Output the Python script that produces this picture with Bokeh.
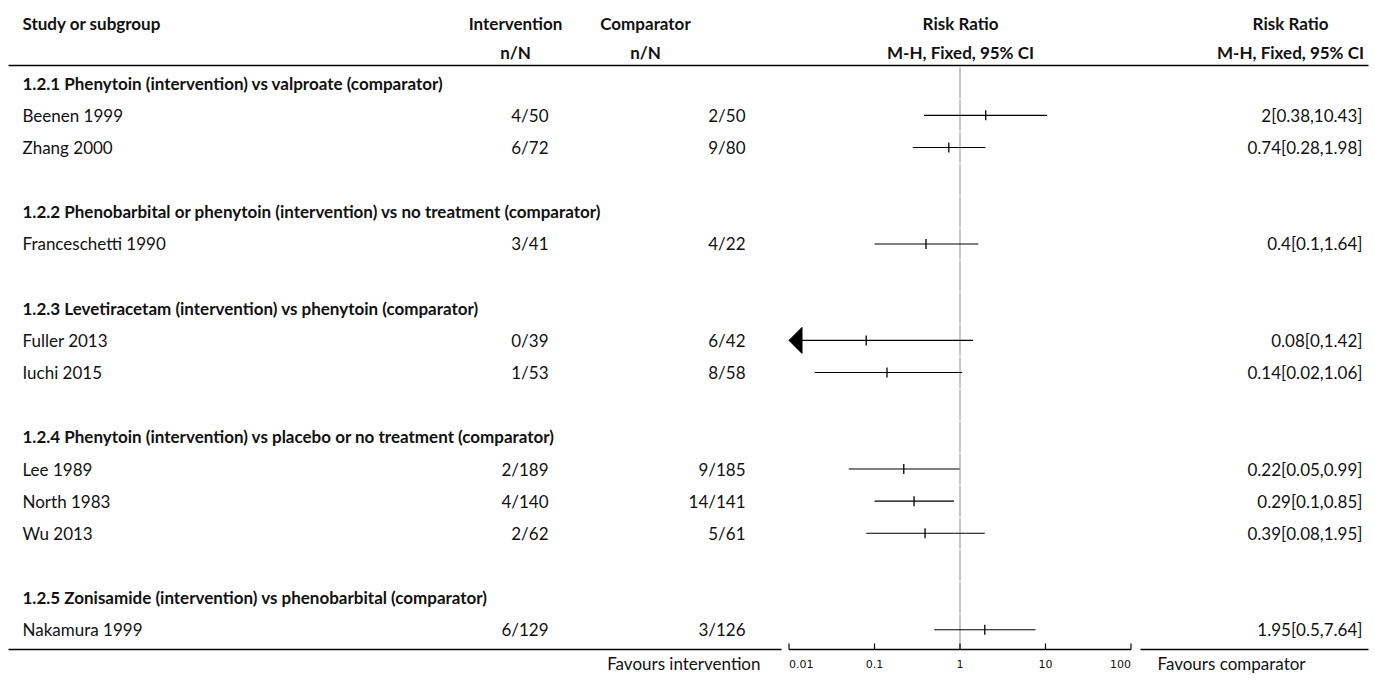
from bokeh.plotting import figure
from bokeh.models import Range1d, LogScale, ColumnDataSource
from bokeh.core.properties import value
from bokeh.embed import file_html
from bokeh.resources import INLINE

# ---------------- data ----------------
group_titles = [
    "1.2.1 Phenytoin (intervention) vs valproate (comparator)",
    "1.2.2 Phenobarbital or phenytoin (intervention) vs no treatment (comparator)",
    "1.2.3 Levetiracetam (intervention) vs phenytoin (comparator)",
    "1.2.4 Phenytoin (intervention) vs placebo or no treatment (comparator)",
    "1.2.5 Zonisamide (intervention) vs phenobarbital (comparator)",
]
studies = ["Beenen 1999", "Zhang 2000", "Franceschetti 1990", "Fuller 2013", "Iuchi 2015",
           "Lee 1989", "North 1983", "Wu 2013", "Nakamura 1999"]
study_group = [0, 0, 1, 2, 2, 3, 3, 3, 4]
int_events = [4, 6, 3, 0, 1, 2, 4, 2, 6]
int_total = [50, 72, 41, 39, 53, 189, 140, 62, 129]
comp_events = [2, 9, 4, 6, 8, 9, 14, 5, 3]
comp_total = [50, 80, 22, 42, 58, 185, 141, 61, 126]
rr = [2, 0.74, 0.4, 0.08, 0.14, 0.22, 0.29, 0.39, 1.95]
ci_low = [0.38, 0.28, 0.1, 0, 0.02, 0.05, 0.1, 0.08, 0.5]
ci_high = [10.43, 1.98, 1.64, 1.42, 1.06, 0.99, 0.85, 1.95, 7.64]
tick_values = [0.01, 0.1, 1, 10, 100]
tick_labels = ["0.01", "0.1", "1", "10", "100"]
header_top = ["Study or subgroup", "Intervention", "Comparator", "Risk Ratio", "Risk Ratio"]
header_sub = ["", "n/N", "n/N", "M-H, Fixed, 95% CI", "M-H, Fixed, 95% CI"]
favours = ["Favours intervention", "Favours comparator"]

# ---------------- layout constants (page pixels) ----------------
W, H = 1375, 680
FONT = "Lato"
FS = "17px"
FS_BOLD = "17px"
TEXT_COLOR = "#111111"
ROW0 = 82.7
ROW_H = 32.15
HEAD_Y = [23, 52]
RULE_Y = 65
BOTTOM_Y = 649
AXLAB_Y = 663
RULE_X0, RULE_X1 = 8, 1368
LEFT_X = 22
INT_HEAD_X, INT_VAL_X = 515, 548
COMP_HEAD_X, COMP_VAL_X = 645, 745
RR_HEAD_X = 960
RR2_HEAD_X, RR2_VAL_X = 1290, 1362
FAV_L_X, FAV_R_X = 760, 1157
ONE_X = 959.5
DECADE = 85.5
AX_MIN, AX_MAX = tick_values[0], tick_values[-1]

p = figure(width=W, height=H, output_backend="svg", toolbar_location=None,
           x_axis_type=None, y_axis_type=None,
           x_range=Range1d(0, W), y_range=Range1d(H, 0),
           min_border=0)
p.outline_line_color = None
p.grid.visible = False
p.background_fill_color = "white"
p.border_fill_color = "white"
p.extra_x_ranges = {"log": Range1d(10 ** ((0 - ONE_X) / DECADE), 10 ** ((W - ONE_X) / DECADE))}
p.extra_x_scales = {"log": LogScale()}

# ---------------- row layout ----------------
rows = []
for g in range(len(group_titles)):
    rows.append(("group", g))
    for i, sg in enumerate(study_group):
        if sg == g:
            rows.append(("study", i))
    if g < len(group_titles) - 1:
        rows.append(("blank", None))
row_y = [ROW0 + ROW_H * k for k in range(len(rows))]


def txt(x, y, t, align="left", bold=False, size=None, font=FONT, xr=None):
    kw = dict(x_range_name=xr) if xr else {}
    if size is None:
        size = FS_BOLD if bold else FS
    p.text(x=x, y=y, text=t, text_align=align, text_baseline="middle",
           text_font=value(font), text_font_size=size,
           text_font_style="bold" if bold else "normal", text_color=TEXT_COLOR, **kw)


# headers
hx = [LEFT_X, INT_HEAD_X, COMP_HEAD_X, RR_HEAD_X, RR2_HEAD_X]
ha = ["left", "center", "center", "center", "center"]
for x, a, t1, t2 in zip(hx, ha, header_top, header_sub):
    txt([x], [HEAD_Y[0]], [t1], align=a, bold=True)
    if t2:
        txt([x], [HEAD_Y[1]], [t2], align=a, bold=True)

# top rule
p.segment(x0=[RULE_X0], x1=[RULE_X1], y0=[RULE_Y], y1=[RULE_Y], line_color="black", line_width=1.3)

# group titles
gy = [row_y[k] for k, r in enumerate(rows) if r[0] == "group"]
txt([LEFT_X] * len(gy), gy, group_titles, bold=True)

# studies
sy = [row_y[k] for k, r in enumerate(rows) if r[0] == "study"]
txt([LEFT_X] * len(sy), sy, studies)
txt([INT_VAL_X] * len(sy), sy, [f"{a}/{b}" for a, b in zip(int_events, int_total)], align="right")
txt([COMP_VAL_X] * len(sy), sy, [f"{a}/{b}" for a, b in zip(comp_events, comp_total)], align="right")
txt([RR2_VAL_X] * len(sy), sy,
    [f"{r:g}[{l:g},{h:g}]" for r, l, h in zip(rr, ci_low, ci_high)], align="right")

# line of no effect (per-row segments, tiny gaps)
v_y0 = [y - ROW_H / 2 + 0.5 for y in row_y]
v_y1 = [y + ROW_H / 2 - 0.5 for y in row_y]
v_y0[0] = RULE_Y + 2
v_y1[-1] = BOTTOM_Y
p.segment(x0=[1] * len(row_y), x1=[1] * len(row_y), y0=v_y0, y1=v_y1,
          x_range_name="log", line_color="#a0a0a0", line_width=1.2)

# CIs
src = ColumnDataSource(dict(
    lo=[max(l, AX_MIN) for l in ci_low], hi=[min(h, AX_MAX) for h in ci_high],
    rr=rr, y=sy, yt=[y - 5 for y in sy], yb=[y + 5 for y in sy]))
p.segment(x0="lo", x1="hi", y0="y", y1="y", source=src, x_range_name="log",
          line_color="black", line_width=1.1)
p.segment(x0="rr", x1="rr", y0="yt", y1="yb", source=src, x_range_name="log",
          line_color="black", line_width=1.3)

# arrows for CIs truncated at the axis
ARROW_LEN, ARROW_HALF = 13, 13
axs, ays = [], []
for l, y in zip(ci_low, sy):
    if l < AX_MIN:
        base = AX_MIN * 10 ** (ARROW_LEN / DECADE)
        axs.append([AX_MIN, base, base])
        ays.append([y, y - ARROW_HALF, y + ARROW_HALF])
if axs:
    p.patches(xs=axs, ys=ays, x_range_name="log", fill_color="black", line_color="black")

# bottom rule pieces + axis line
p.segment(x0=[RULE_X0, 1140], x1=[781, RULE_X1], y0=[BOTTOM_Y] * 2, y1=[BOTTOM_Y] * 2,
          line_color="black", line_width=1.3)
p.segment(x0=[AX_MIN], x1=[AX_MAX], y0=[BOTTOM_Y], y1=[BOTTOM_Y], x_range_name="log",
          line_color="black", line_width=1.3)
# ticks (pointing up)
p.segment(x0=tick_values, x1=tick_values, y0=[BOTTOM_Y] * 5, y1=[BOTTOM_Y - 6] * 5,
          x_range_name="log", line_color="black", line_width=1.2)
# tick labels (end labels kept inside the axis span)
tick_align = ["left"] + ["center"] * (len(tick_values) - 2) + ["right"]
for v, t, a in zip(tick_values, tick_labels, tick_align):
    p.text(x=[v], y=[AXLAB_Y], text=[t], text_align=a, text_baseline="middle",
           text_font=value("DejaVu Sans"), text_font_size="11px", text_color=TEXT_COLOR,
           x_range_name="log")

# favours labels
txt([FAV_L_X], [AXLAB_Y], [favours[0]], align="right")
txt([FAV_R_X], [AXLAB_Y], [favours[1]], align="left")

open("out.html", "w").write(file_html(p, INLINE))
